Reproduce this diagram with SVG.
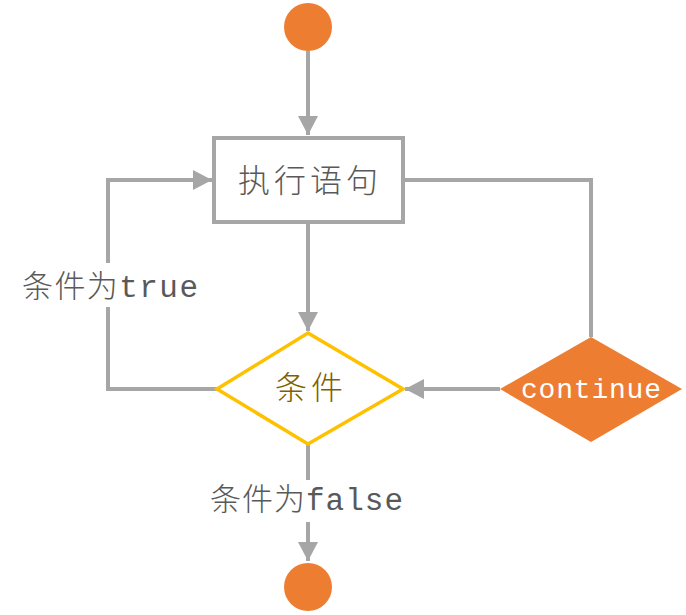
<svg xmlns="http://www.w3.org/2000/svg" width="686" height="615" viewBox="0 0 686 615">
<style>
.ln{fill:none;stroke:#a6a6a6;stroke-width:4}
.t{font-family:"Liberation Mono","Noto Sans CJK SC",monospace;font-weight:300;fill:#595959}
</style>
<defs>
<marker id="ah" markerUnits="userSpaceOnUse" markerWidth="20" markerHeight="20" viewBox="0 0 20 20" refX="19" refY="10" orient="auto">
<path d="M0,0 L19,10 L0,20 Z" fill="#a6a6a6"/>
</marker>
</defs>
<rect width="686" height="615" fill="#ffffff"/>
<g id="connectors">
<path class="ln" d="M308,51 V135" marker-end="url(#ah)"/>
<path class="ln" d="M308,222 V331" marker-end="url(#ah)"/>
<path class="ln" d="M217,389 H108 V307"/>
<path class="ln" d="M108,263 V180 H212" marker-end="url(#ah)"/>
<path class="ln" d="M403,180 H591 V337"/>
<path class="ln" d="M500,389 H405" marker-end="url(#ah)"/>
<path class="ln" d="M308,444 V480"/>
<path class="ln" d="M308,522 V561" marker-end="url(#ah)"/>
<text class="t" x="22" y="297" font-size="31" textLength="176" lengthAdjust="spacing">条件为true</text>
<text class="t" x="210" y="510" font-size="31" textLength="193" lengthAdjust="spacing">条件为false</text>
</g>
<g id="start">
<circle cx="308" cy="27" r="24" fill="#ed7d31"/>
</g>
<g id="exec">
<rect x="214" y="138" width="189" height="84" fill="#ffffff" stroke="#a6a6a6" stroke-width="4"/>
<text class="t" x="308" y="192" font-size="32" text-anchor="middle" textLength="140" lengthAdjust="spacing">执行语句</text>
</g>
<g id="cond">
<polygon points="308,333 403,389 308,444 217,389" fill="#ffffff" stroke="#ffc000" stroke-width="3.5"/>
<text class="t" x="309" y="399" font-size="32" text-anchor="middle" style="fill:#7f6000" textLength="68" lengthAdjust="spacing">条件</text>
</g>
<g id="continue">
<polygon points="591,337 682,389 591,442 500,389" fill="#ed7d31"/>
<text x="591" y="398" font-family="Liberation Mono, monospace" font-size="28" fill="#ffffff" text-anchor="middle" textLength="140" lengthAdjust="spacing">continue</text>
</g>
<g id="end">
<circle cx="308" cy="587" r="24" fill="#ed7d31"/>
</g>
</svg>
